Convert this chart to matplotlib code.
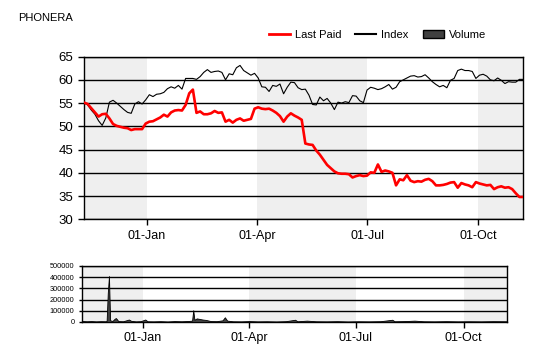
import pandas as pd
import matplotlib
matplotlib.use("Agg")
import matplotlib.pyplot as plt
import matplotlib.dates as mdates
from matplotlib.lines import Line2D
from matplotlib.patches import Patch

plt.rcParams["font.family"] = ["Liberation Sans", "DejaVu Sans"]

# ---------- DATA ----------
START = "2011-11-10"
END = "2012-11-07"

# price series, one value every 3 days from START
last_paid = [
    55.1, 54.8, 53.9, 53.0, 52.1, 52.6, 52.7, 51.7, 50.5, 50.1,
    49.9, 49.7, 49.6, 49.2, 49.4, 49.4, 49.4, 50.6, 51.0, 51.1,
    51.5, 51.9, 52.5, 52.1, 53.0, 53.4, 53.5, 53.4, 54.6, 57.1,
    57.9, 52.9, 53.2, 52.6, 52.6, 52.8, 53.3, 52.9, 53.0, 51.0,
    51.4, 50.8, 51.4, 51.7, 51.2, 51.4, 51.6, 53.8, 54.1, 53.8,
    53.7, 53.8, 53.4, 52.9, 52.2, 51.0, 52.1, 52.8, 52.3, 51.9,
    51.4, 46.3, 46.1, 46.0, 44.8, 43.9, 42.8, 41.7, 41.0, 40.3,
    39.9, 39.8, 39.8, 39.7, 39.0, 39.3, 39.5, 39.3, 39.4, 40.1,
    40.0, 41.8, 40.2, 40.5, 40.3, 40.0, 37.3, 38.6, 38.4, 39.5,
    38.3, 38.0, 38.2, 38.1, 38.5, 38.7, 38.2, 37.3, 37.3, 37.4,
    37.6, 37.9, 38.0, 36.8, 37.8, 37.5, 37.3, 36.9, 38.0, 37.7,
    37.5, 37.3, 37.4, 36.5, 36.9, 37.1, 36.8, 36.9, 36.5, 35.6,
    34.8, 34.8,
]
index_vals = [
    55.1, 54.6, 53.5, 52.6, 51.2, 50.2, 51.8, 55.2, 55.6, 55.0,
    54.3, 53.6, 53.0, 52.8, 54.8, 55.3, 54.8, 55.7, 56.8, 56.4,
    56.9, 57.0, 57.3, 58.1, 58.5, 58.2, 58.8, 58.0, 60.3, 60.3,
    60.3, 60.1, 60.7, 61.6, 62.2, 61.6, 61.8, 61.9, 61.6, 60.0,
    61.3, 61.1, 62.6, 63.1, 62.0, 61.5, 61.0, 61.4, 60.4, 58.5,
    58.4, 57.5, 58.8, 58.6, 59.1, 57.0, 58.4, 59.5, 59.4, 58.3,
    57.9, 58.0, 56.7, 54.7, 54.6, 56.3, 55.5, 56.0, 55.0, 53.6,
    55.2, 55.0, 55.3, 55.1, 56.6, 56.5, 55.5, 55.1, 57.8, 58.4,
    58.2, 57.9, 58.1, 58.5, 59.0, 58.0, 58.4, 59.6, 60.0, 60.4,
    60.8, 60.9, 60.6, 60.7, 61.1, 60.4, 59.6, 59.0, 58.5, 58.8,
    58.3, 59.9, 60.3, 62.0, 62.3, 62.0, 62.0, 61.8, 60.3, 61.0,
    61.2, 60.8, 60.0, 59.8, 60.4, 59.9, 59.2, 59.6, 59.5, 59.5,
    60.1, 60.1,
]

vol_dates = [
    "2011-11-10", "2011-11-14", "2011-11-18", "2011-11-22", "2011-11-26",
    "2011-11-30", "2011-12-01", "2011-12-02", "2011-12-03", "2011-12-04",
    "2011-12-06", "2011-12-08", "2011-12-09", "2011-12-11", "2011-12-15",
    "2011-12-20", "2011-12-22", "2011-12-26", "2011-12-30", "2012-01-03",
    "2012-01-05", "2012-01-10", "2012-01-16", "2012-01-22", "2012-01-28",
    "2012-02-03", "2012-02-09", "2012-02-12", "2012-02-13", "2012-02-14",
    "2012-02-16", "2012-02-18", "2012-02-21", "2012-02-24", "2012-02-28",
    "2012-03-04", "2012-03-09", "2012-03-11", "2012-03-13", "2012-03-18",
    "2012-03-25", "2012-04-01", "2012-04-08", "2012-04-16", "2012-04-24",
    "2012-05-02", "2012-05-10", "2012-05-12", "2012-05-20", "2012-05-28",
    "2012-06-06", "2012-06-15", "2012-06-24", "2012-07-03", "2012-07-12",
    "2012-07-22", "2012-08-01", "2012-08-03", "2012-08-12", "2012-08-20",
    "2012-08-28", "2012-09-06", "2012-09-16", "2012-09-26", "2012-10-06",
    "2012-10-16", "2012-10-26", "2012-11-07",
]
vol_values = [
    9000, 6000, 8000, 5000, 7000,
    6000, 8000, 260000, 410000, 15000,
    9000, 30000, 35000, 8000, 6000,
    22000, 10000, 5000, 7000, 22000,
    6000, 5000, 7000, 4000, 8000,
    6000, 9000, 12000, 105000, 20000,
    32000, 28000, 22000, 18000, 8000,
    7000, 15000, 42000, 12000, 6000,
    5000, 8000, 5000, 6000, 4000,
    7000, 20000, 6000, 12000, 6000,
    5000, 7000, 4000, 6000, 5000,
    7000, 20000, 6000, 8000, 12000,
    6000, 5000, 7000, 5000, 6000,
    5000, 7000, 6000,
]

price_dates = pd.date_range(START, periods=len(last_paid), freq="3D")
vol_x = pd.to_datetime(vol_dates)

# ---------- FIGURE ----------
fig = plt.figure(figsize=(5.4, 3.6), dpi=100)
ax = fig.add_axes([0.1556, 0.3908, 0.813, 0.452])
axv = fig.add_axes([0.1519, 0.1056, 0.787, 0.1556])

shade = "#efefef"
x0, x1 = pd.Timestamp(START), pd.Timestamp(END)
bands = [(x0, pd.Timestamp("2012-01-01")),
         (pd.Timestamp("2012-04-01"), pd.Timestamp("2012-07-01")),
         (pd.Timestamp("2012-10-01"), x1)]

for a in (ax, axv):
    for b0, b1 in bands:
        a.axvspan(b0, b1, color=shade, lw=0, zorder=0)
    a.set_xlim(x0, x1)
    a.xaxis.set_major_locator(mdates.MonthLocator(bymonth=[1, 4, 7, 10]))
    a.xaxis.set_major_formatter(mdates.DateFormatter("%d-%b"))
    a.grid(axis="y", color="black", linewidth=1)
    a.tick_params(axis="x", length=4, width=1, labelsize=9, direction="out")
    for s in a.spines.values():
        s.set_color("black")
        s.set_linewidth(1)

# price panel
ax.plot(price_dates, index_vals, color="black", lw=0.8, zorder=3)
ax.plot(price_dates, last_paid, color="red", lw=1.9, zorder=4)
ax.set_ylim(30, 65)
ax.set_yticks(range(30, 66, 5))
ax.tick_params(axis="y", length=4, width=1, labelsize=9.5)

# volume panel
axv.fill_between(vol_x, vol_values, color="#404040", lw=0.6,
                 edgecolor="black", zorder=3)
axv.set_ylim(0, 500000)
axv.set_yticks(range(0, 500001, 100000))
axv.tick_params(axis="y", length=2, width=1, labelsize=5.3)

fig.text(0.033, 0.95, "PHONERA", fontsize=8, va="center", ha="left")

handles = [Line2D([], [], color="red", lw=2),
           Line2D([], [], color="black", lw=1.5),
           Patch(facecolor="#404040", edgecolor="black")]
fig.legend(handles, ["Last Paid", "Index", "Volume"], loc="center",
           bbox_to_anchor=(0.699, 0.903), ncol=3, frameon=False,
           fontsize=8, handlelength=1.9, handleheight=0.8,
           handletextpad=0.45, columnspacing=1.25)

plt.savefig("out.png", dpi=100)
